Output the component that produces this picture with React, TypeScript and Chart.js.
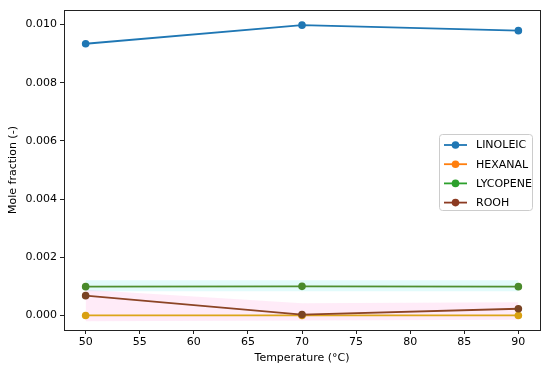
import React, { useEffect, useRef } from "react";
import { Chart, registerables } from "chart.js";

Chart.register(...registerables);

const temperatures = [50, 70, 90];
const linoleic = [0.00934, 0.00998, 0.00979];
const hexanal = [0.0, 0.0, 0.0];
const lycopene = [0.00099, 0.001, 0.00099];
const rooh = [0.00068, 0.00003, 0.00023];
const lycopeneLow = [0.00083, 0.00083, 0.00083];
const lycopeneHigh = [0.00121, 0.00121, 0.00121];
const roohLow = [-0.0002, -0.00017, -0.00015];
const roohHigh = [0.00088, 0.00042, 0.00045];
const xTicks = [50, 55, 60, 65, 70, 75, 80, 85, 90];
const yTicks = [0, 0.002, 0.004, 0.006, 0.008, 0.01];
const seriesNames = ["LINOLEIC", "HEXANAL", "LYCOPENE", "ROOH"];
const seriesColors = ["#1f77b4", "#ff7f0e", "#2ca02c", "#8c3b22"];

const FONT = "'DejaVu Sans', sans-serif";

const pts = (ys: number[]) => temperatures.map((x, i) => ({ x, y: ys[i] }));

const framePlugin = {
  id: "frameAndLegend",
  afterDraw(chart: any) {
    const { ctx, chartArea } = chart;
    ctx.save();
    ctx.strokeStyle = "#222";
    ctx.lineWidth = 1;
    ctx.strokeRect(
      Math.round(chartArea.left) + 0.5,
      Math.round(chartArea.top) + 0.5,
      Math.round(chartArea.right - chartArea.left),
      Math.round(chartArea.bottom - chartArea.top)
    );
    // legend
    const bx = 439.5, by = 134.5, bw = 93, bh = 76, r = 3;
    ctx.beginPath();
    ctx.moveTo(bx + r, by);
    ctx.lineTo(bx + bw - r, by);
    ctx.quadraticCurveTo(bx + bw, by, bx + bw, by + r);
    ctx.lineTo(bx + bw, by + bh - r);
    ctx.quadraticCurveTo(bx + bw, by + bh, bx + bw - r, by + bh);
    ctx.lineTo(bx + r, by + bh);
    ctx.quadraticCurveTo(bx, by + bh, bx, by + bh - r);
    ctx.lineTo(bx, by + r);
    ctx.quadraticCurveTo(bx, by, bx + r, by);
    ctx.closePath();
    ctx.fillStyle = "rgba(255,255,255,0.8)";
    ctx.fill();
    ctx.strokeStyle = "#cccccc";
    ctx.lineWidth = 1;
    ctx.stroke();
    ctx.font = `11px ${FONT}`;
    ctx.textBaseline = "middle";
    ctx.textAlign = "left";
    seriesNames.forEach((name, i) => {
      const y = 145 + i * 19.2;
      ctx.strokeStyle = seriesColors[i];
      ctx.lineWidth = 1.8;
      ctx.beginPath();
      ctx.moveTo(444, y);
      ctx.lineTo(467, y);
      ctx.stroke();
      ctx.fillStyle = seriesColors[i];
      ctx.beginPath();
      ctx.arc(455.5, y, 3.8, 0, Math.PI * 2);
      ctx.fill();
      ctx.fillStyle = "#000";
      ctx.fillText(name, 476, y + 0.5);
    });
    ctx.restore();
  },
};

export default function App() {
  const ref = useRef<HTMLCanvasElement | null>(null);
  useEffect(() => {
    document.body.style.margin = "0";
    if (!ref.current) return;
    const line = (label: string, ys: number[], color: string, pointColor: string, order: number) => ({
      label,
      data: pts(ys),
      borderColor: color,
      backgroundColor: pointColor,
      pointBackgroundColor: pointColor,
      pointBorderColor: pointColor,
      pointRadius: 3.8,
      pointBorderWidth: 0,
      borderWidth: 1.8,
      fill: false,
      order,
    });
    const band = (ys: number[], color: string, fillTarget: any, order: number) => ({
      label: "_band",
      data: pts(ys),
      borderColor: "rgba(0,0,0,0)",
      backgroundColor: color,
      borderWidth: 0,
      pointRadius: 0,
      fill: fillTarget,
      order,
      tension: 0,
    });
    const chart = new Chart(ref.current, {
      type: "line",
      data: {
        datasets: [
          band(lycopeneLow, "rgba(0,0,0,0)", false, 20),
          band(lycopeneHigh, "rgba(110,235,235,0.2)", { target: 0 }, 19),
          band(roohLow, "rgba(0,0,0,0)", false, 18),
          band(roohHigh, "rgba(255,120,210,0.15)", { target: 2 }, 17),
          line("LINOLEIC", linoleic, "#1f77b4", "#1f77b4", 4),
          line("HEXANAL", hexanal, "#dca51a", "#d9a012", 3),
          line("LYCOPENE", lycopene, "#4f8f2f", "#4a8a2b", 2),
          line("ROOH", rooh, "#8c4426", "#7a4424", 1),
        ] as any,
      },
      options: {
        animation: false,
        responsive: false,
        maintainAspectRatio: false,
        layout: { padding: { top: 10, right: 10, left: 0, bottom: 0 } },
        plugins: { legend: { display: false }, tooltip: { enabled: false } },
        scales: {
          x: {
            type: "linear",
            min: 48,
            max: 92,
            afterFit: (s: any) => { s.height = 42; },
            afterBuildTicks: (s: any) => { s.ticks = xTicks.map((v) => ({ value: v })); },
            grid: { display: true, drawOnChartArea: false, drawTicks: true, tickLength: 4, color: "#222", lineWidth: 1 },
            border: { display: false },
            ticks: { color: "#000", padding: 2, font: { family: FONT, size: 11 }, maxRotation: 0, autoSkip: false, callback: (v: any) => String(v) },
            title: { display: true, text: "Temperature (°C)", color: "#000", font: { family: FONT, size: 11 }, padding: { top: 0, bottom: 7 } },
          },
          y: {
            type: "linear",
            min: -0.0005,
            max: 0.0105,
            afterFit: (s: any) => { s.width = 64; },
            afterBuildTicks: (s: any) => { s.ticks = yTicks.map((v) => ({ value: v })); },
            grid: { display: true, drawOnChartArea: false, drawTicks: true, tickLength: 4, color: "#222", lineWidth: 1 },
            border: { display: false },
            ticks: { color: "#000", padding: 3, font: { family: FONT, size: 11 }, autoSkip: false, callback: (v: any) => Number(v).toFixed(3) },
            title: { display: true, text: "Mole fraction (-)", color: "#000", font: { family: FONT, size: 11 }, padding: { top: 7, bottom: 0 } },
          },
        },
      },
      plugins: [framePlugin],
    });
    return () => chart.destroy();
  }, []);
  return (
    <div style={{ position: "fixed", left: 0, top: 0, width: 550, height: 372, background: "#fff" }}>
      <canvas ref={ref} width={550} height={372} style={{ width: 550, height: 372, display: "block" }} />
    </div>
  );
}
